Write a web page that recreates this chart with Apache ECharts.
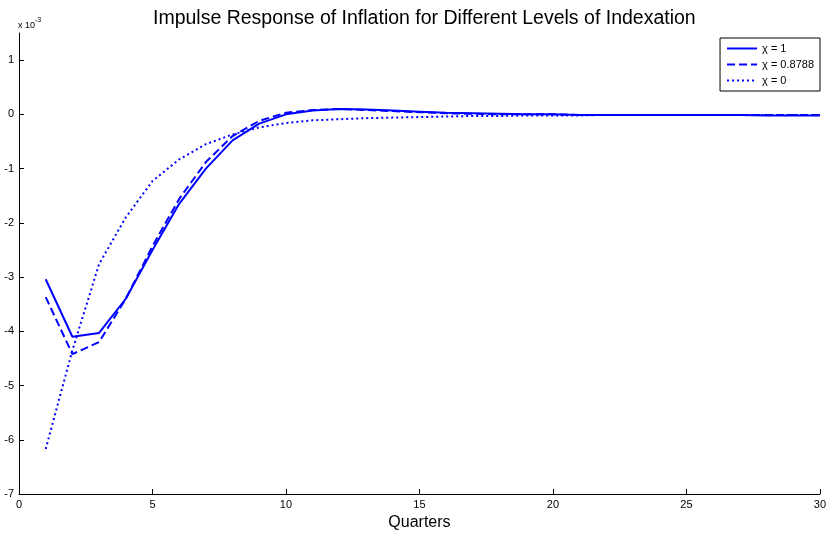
<!DOCTYPE html>
<html lang="en">
<head>
<meta charset="UTF-8">
<script src="https://cdn.jsdelivr.net/npm/echarts@6/dist/echarts.min.js"></script>
<title>Impulse Response</title>
<style>
  body { margin: 0; background: #fff; }
  #main { width: 829px; height: 536px; }
</style>
</head>
<body>
<div id="main"></div>
<script type="text/javascript">
// quarters and responses (units of 1e-3)
var quarters = [];
for (var q = 1; q <= 30; q++) quarters.push(q);
var chi1 = [-3.04, -4.1, -4.03, -3.4, -2.5, -1.65, -1.0, -0.48, -0.17, 0.0,
            0.07, 0.1, 0.09, 0.07, 0.05, 0.03, 0.02, 0.01, 0.0, 0.0,
            -0.01, -0.01, -0.01, -0.01, -0.01, -0.01, -0.01, -0.02, -0.02, -0.02];
var chi08788 = [-3.37, -4.42, -4.2, -3.4, -2.43, -1.56, -0.88, -0.4, -0.12, 0.03,
                0.08, 0.1, 0.08, 0.06, 0.04, 0.02, 0.01, 0.0, 0.0, 0.0,
                -0.01, -0.01, -0.01, -0.01, -0.01, -0.01, -0.01, -0.01, -0.01, -0.01];
var chi0 = [-6.17, -4.35, -2.76, -1.9, -1.23, -0.83, -0.55, -0.37, -0.24, -0.16,
            -0.11, -0.09, -0.07, -0.06, -0.05, -0.04, -0.03, -0.03, -0.02, -0.02,
            -0.02, -0.01, -0.01, -0.01, -0.01, -0.01, -0.01, -0.01, -0.01, -0.01];
var seriesNames = ['\u03c7 = 1', '\u03c7 = 0.8788', '\u03c7 = 0'];
var yTicks = [-7, -6, -5, -4, -3, -2, -1, 0, 1];

function pairs(ys) {
    return quarters.map(function (x, i) { return [x, ys[i]]; });
}

var chart = echarts.init(document.getElementById('main'));
var font = 'Liberation Sans, Arial, sans-serif';

function mkSeries(name, ys, type) {
    return {
        name: name, type: 'line', data: pairs(ys), symbol: 'none',
        lineStyle: { color: '#0000ff', width: 2, type: type },
        itemStyle: { color: '#0000ff' }
    };
}

chart.setOption({
    animation: false,
    title: {
        text: 'Impulse Response of Inflation for Different Levels of Indexation',
        left: 148, top: 4,
        textStyle: { fontFamily: font, fontSize: 19.5, fontWeight: 'normal', color: '#000' }
    },
    legend: {
        orient: 'vertical', right: 9, top: 38,
        padding: [5, 6, 5, 6], itemGap: 5, itemWidth: 30, itemHeight: 12,
        borderColor: '#000', borderWidth: 1, backgroundColor: '#fff',
        itemStyle: { opacity: 0 },
        textStyle: { fontFamily: font, fontSize: 11, color: '#000' },
        data: seriesNames
    },
    grid: { left: 19, right: 5, top: 33, bottom: 41, containLabel: false },
    xAxis: {
        type: 'value', min: 0, max: 30, interval: 5,
        name: 'Quarters', nameLocation: 'middle', nameGap: 21,
        nameTextStyle: { fontFamily: font, fontSize: 16, color: '#000' },
        axisLine: { onZero: false, lineStyle: { color: '#000' } },
        axisTick: { inside: true, length: 5, lineStyle: { color: '#000' } },
        axisLabel: { fontFamily: font, fontSize: 11, color: '#000', margin: 5 },
        splitLine: { show: false }
    },
    yAxis: {
        type: 'value', min: -7, max: 1.5, interval: 1,
        axisLine: { show: true, onZero: false, lineStyle: { color: '#000' } },
        axisTick: { show: true, inside: true, length: 5, customValues: yTicks, lineStyle: { color: '#000' } },
        axisLabel: { fontFamily: font, fontSize: 11, color: '#000', margin: 5, customValues: yTicks },
        splitLine: { show: false }
    },
    graphic: [{
        type: 'text', left: 18, top: 17,
        style: {
            text: '{b|x 10}{s|-3}',
            rich: {
                b: { fontFamily: font, fontSize: 9, fill: '#000', verticalAlign: 'bottom' },
                s: { fontFamily: font, fontSize: 7, fill: '#000', padding: [0, 0, 6, 0] }
            }
        }
    }],
    series: [
        mkSeries(seriesNames[0], chi1, 'solid'),
        mkSeries(seriesNames[1], chi08788, [8, 4]),
        mkSeries(seriesNames[2], chi0, [2, 3])
    ]
});
</script>
</body>
</html>
